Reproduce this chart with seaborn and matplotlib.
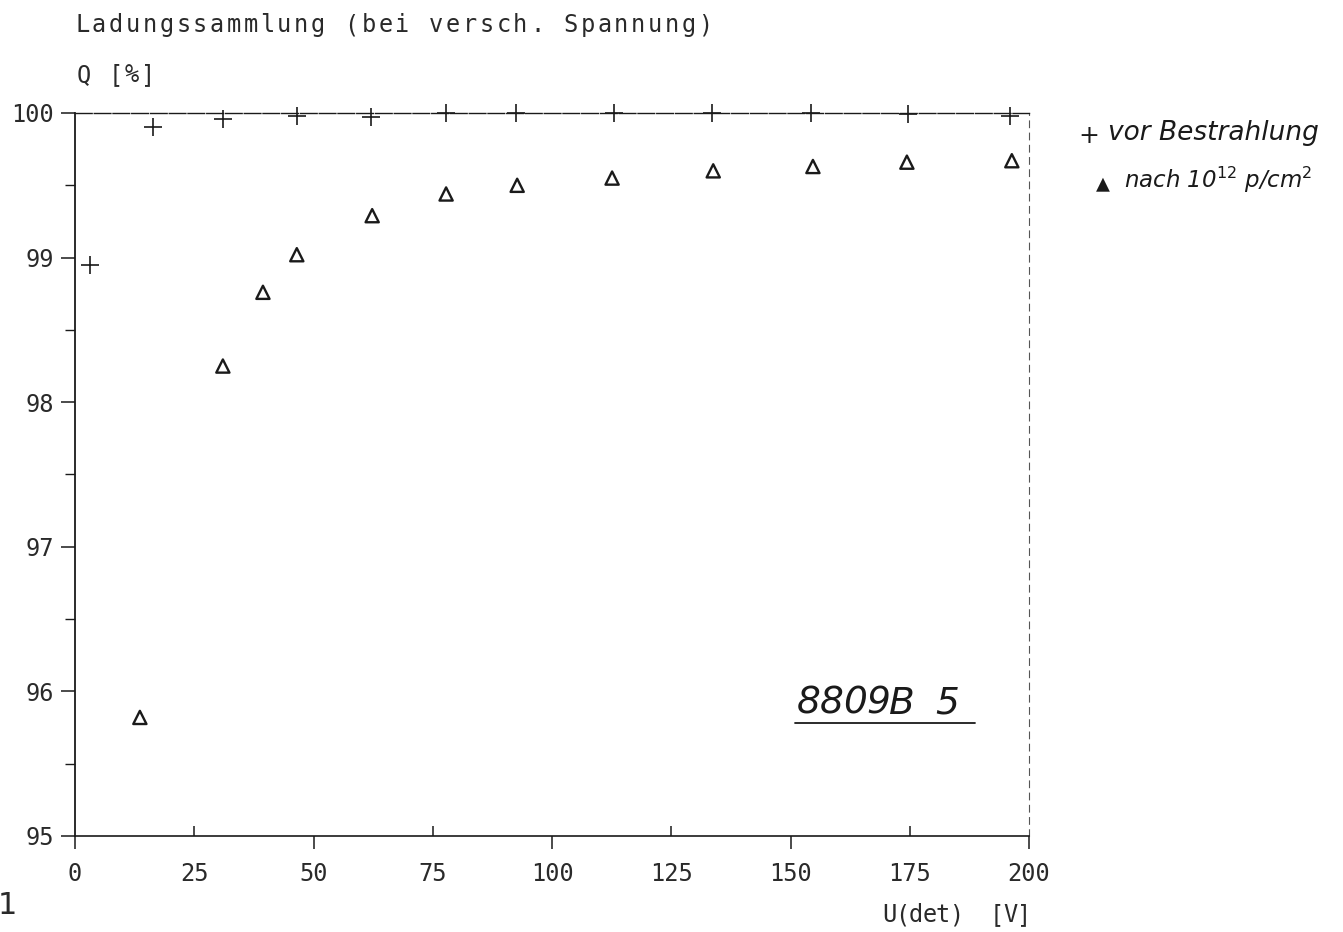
import matplotlib
matplotlib.use("Agg")
import matplotlib.pyplot as plt
from matplotlib.lines import Line2D
from matplotlib.ticker import MultipleLocator, FixedLocator, FixedFormatter
import seaborn as sns
import pandas as pd

# Charge collection vs. detector voltage, before and after irradiation
U_vor = [3.1, 16.4, 31.0, 46.5, 62.1, 77.8, 92.5, 113.0, 133.5, 154.3, 174.6, 196.0]
Q_vor = [98.95, 99.90, 99.96, 99.98, 99.97, 100.0, 100.0, 100.0, 100.0, 100.0, 99.99, 99.98]

U_nach = [13.6, 31.0, 39.4, 46.5, 62.3, 77.8, 92.7, 112.6, 133.8, 154.7, 174.4, 196.4]
Q_nach = [95.82, 98.25, 98.76, 99.02, 99.29, 99.44, 99.50, 99.55, 99.60, 99.63, 99.66, 99.67]

x_ticks = [0, 25, 50, 75, 100, 125, 150, 175, 200]
y_ticks = [95, 96, 97, 98, 99, 100]

title = "Ladungssammlung (bei versch. Spannung)"
y_label = "Q [%]"
x_label = "U(det)  [V]"
sample_id = "8809B 5"
legend_vor = "vor Bestrahlung"
legend_nach = r"nach 10$^{12}$ p/cm$^2$"

sns.set_style("white")
plt.rcParams["font.family"] = ["DejaVu Sans Mono", "DejaVu Sans"]

INK = "#1a1a1a"
W, H = 1343, 932
fig = plt.figure(figsize=(W / 100, H / 100), dpi=100)
ax = fig.add_axes([75 / W, 1 - 836 / H, (1029 - 75) / W, (836 - 113) / H])

df_vor = pd.DataFrame({"U": U_vor, "Q": Q_vor})
df_nach = pd.DataFrame({"U": U_nach, "Q": Q_nach})

sns.scatterplot(data=df_vor, x="U", y="Q", marker="+", s=150, color=INK,
                linewidth=1.2, ax=ax, clip_on=False, zorder=5)
sns.scatterplot(data=df_nach, x="U", y="Q", marker="^", s=90, facecolors="none",
                edgecolor=INK, linewidth=1.7, ax=ax, clip_on=False, zorder=5)

ax.set_xlim(0, 200)
ax.set_ylim(95, 100)

# even multiples of 25: outward ticks; odd multiples: short inward ticks
major_x = x_ticks[::2]
minor_x = x_ticks[1::2]
ax.xaxis.set_major_locator(FixedLocator(major_x))
ax.xaxis.set_major_formatter(FixedFormatter([str(v) for v in major_x]))
ax.xaxis.set_minor_locator(FixedLocator(minor_x))
ax.xaxis.set_minor_formatter(FixedFormatter([str(v) for v in minor_x]))

ax.set_yticks(y_ticks)
ax.set_yticklabels([str(v) for v in y_ticks])
ax.yaxis.set_minor_locator(MultipleLocator(0.5))
ax.set_xlabel("")
ax.set_ylabel("")

ax.tick_params(axis="both", which="both", labelsize=17, labelcolor="#2a2a2a",
               color=INK, width=1.1)
ax.tick_params(axis="x", which="major", direction="out", length=9, pad=10, bottom=True)
ax.tick_params(axis="x", which="minor", direction="in", length=7, pad=19, bottom=True)
ax.tick_params(axis="y", which="major", direction="out", length=10, pad=5, left=True)
ax.tick_params(axis="y", which="minor", direction="out", length=7, width=1.0, left=True)

for side in ["left", "bottom", "top", "right"]:
    ax.spines[side].set_visible(True)
    ax.spines[side].set_color(INK)
ax.spines["left"].set_linewidth(1.3)
ax.spines["bottom"].set_linewidth(1.2)
ax.spines["top"].set_linewidth(1.0)
ax.spines["top"].set_linestyle((0, (12, 1.5)))
ax.spines["right"].set_linewidth(0.8)
ax.spines["right"].set_linestyle((0, (6, 5)))
ax.spines["right"].set_color("#555555")


def spaced_text(x_px, y_px, s, advance_px, size, **kw):
    """Draw a string character by character with a fixed pitch."""
    style = dict(color="#2a2a2a", family=["DejaVu Sans Mono"])
    style.update(kw)
    for i, ch in enumerate(s):
        if ch == " ":
            continue
        fig.text((x_px + i * advance_px) / W, 1 - y_px / H, ch, fontsize=size,
                 ha="left", va="center", **style)


spaced_text(75, 25, title, 16.85, 17)
spaced_text(77, 75, y_label, 16.0, 17)
spaced_text(882, 915, x_label, 13.5, 17)
fig.text(-2 / W, 1 - 906 / H, "1", fontsize=22, color="#2a2a2a", ha="left", va="center",
         family=["DejaVu Sans"])

# handwritten-style legend beside the plot
hand = dict(style="italic", color=INK, family=["DejaVu Sans"], fontweight="light")
fig.text(1078 / W, 1 - 136 / H, "+", fontsize=18, ha="left", va="center", **hand)
fig.text(1108 / W, 1 - 133 / H, legend_vor, fontsize=19, ha="left", va="center", **hand)
fig.text(1095 / W, 1 - 184 / H, r"$\blacktriangle$", fontsize=20, ha="left", va="center",
         color=INK)
fig.text(1124 / W, 1 - 180 / H, legend_nach, fontsize=16.5, ha="left", va="center", **hand)

# sample identification, underlined
spaced_text(797, 704, sample_id, 23.0, 27, style="italic", color=INK,
            family=["DejaVu Sans"], fontweight="light")
fig.add_artist(Line2D([795 / W, 975 / W], [1 - 723 / H, 1 - 723 / H],
                      transform=fig.transFigure, color=INK, lw=1.3))

fig.savefig("out.png", dpi=100, facecolor="white")
